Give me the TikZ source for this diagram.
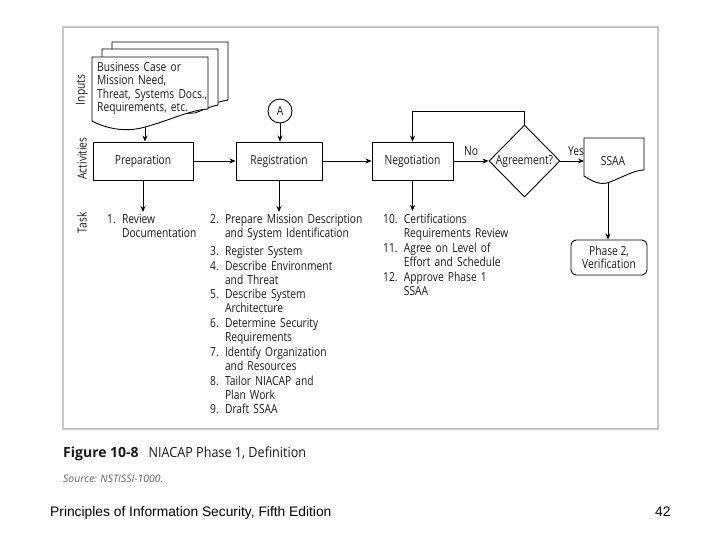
\documentclass[tikz,border=0pt]{standalone}
\usepackage{fontspec}
\setmainfont{Open Sans}
\newfontfamily\cond{Open Sans}[FakeStretch=0.82]
\newfontfamily\capcond{Open Sans}[FakeStretch=0.9]
\newfontfamily\arial{Liberation Sans}
\usetikzlibrary{shapes.geometric,arrows.meta}
\definecolor{txt}{HTML}{1A1A1A}
\begin{document}
\begin{tikzpicture}[x=1pt,y=-1pt,
  every node/.style={text=txt},
  box/.style={draw,line width=0.9pt,rectangle,minimum height=38pt,inner sep=0pt,font=\cond\fontsize{12.5}{13.5}\selectfont},
  lbl/.style={font=\cond\fontsize{12.5}{13.5}\selectfont, inner sep=0pt},
  task/.style={font=\cond\fontsize{12.5}{13.5}\selectfont, inner sep=0pt, anchor=base west, text width=170pt, align=left},
  arr/.style={-{Stealth[length=6pt,width=5pt]}, line width=0.9pt},
  ln/.style={line width=0.9pt}]
\useasboundingbox (0,0) rectangle (720,540);
\fill[white] (0,0) rectangle (720,540);
\draw[gray!45, line width=1.3pt] (63,27) rectangle (658,429);

% row labels
\node[lbl, rotate=90] (rowin) at (82,90) {Inputs};
\node[lbl, rotate=90] (rowact) at (82,158.5) {Activities};
\node[lbl, rotate=90] (rowtask) at (82,223) {Task};

% input document stack
\draw[ln, fill=white] (112,42) -- (228,42) -- (228,100) .. controls (222,101) and (215,103) .. (205,107) -- (112,107) -- cycle;
\draw[ln, fill=white] (102,49) -- (218,49) -- (218,105) .. controls (212,106) and (205,109) .. (195,113) -- (102,115) -- cycle;
\draw[ln, fill=white] (92,57) -- (208,57) -- (208,109) .. controls (190,110) and (168,121) .. (145,127) .. controls (125,133) and (105,128) .. (92,121) -- cycle;
\node[task, text width=115pt] (inputs) at (97,71.5) {Business Case or\\Mission Need,\\Threat, Systems Docs.,\\Requirements, etc.};
\coordinate (inbot) at (145,127);

% activities
\node[box, minimum width=100pt] (prep) at (143,161) {Preparation};
\node[box, minimum width=86pt] (reg) at (279,161) {Registration};
\node[box, minimum width=81pt] (neg) at (412.5,161) {Negotiation};
\node[draw, circle, ln, minimum size=24pt, inner sep=0pt, lbl] (A) at (280,111) {A};
\node[draw, diamond, ln, aspect=1, minimum width=71pt, minimum height=72pt, inner sep=0pt, lbl] (agr) at (524.5,161) {Agreement?};
\node[lbl] (no) at (471,151) {No};
\node[lbl] (yes) at (576,151) {Yes};

% SSAA document
\draw[ln, fill=white] (584,138) -- (644,138) -- (644,170) .. controls (635,170) and (625,176) .. (610,182) .. controls (600,186) and (592,181) .. (584,176) -- cycle;
\node[lbl] (ssaa) at (613,161) {SSAA};
\coordinate (ssaal) at (584,161);
\coordinate (ssaabot) at (608,183);
\node[draw, ln, rounded corners=5pt, minimum width=76pt, minimum height=35pt, inner sep=0pt, align=center, lbl] (ph2) at (609,257.5) {Phase 2,\\Verification};

% connectors
\draw[arr] (inbot) -- (inbot |- prep.north);
\draw[arr] (prep) -- (reg);
\draw[arr] (reg) -- (neg);
\draw[arr] (neg) -- (agr);
\draw[arr] (agr) -- (ssaal);
\draw[arr] (agr.north) -- ++(0,-13) -| (neg.north);
\draw[arr] (A) -- (A |- reg.north);
\draw[arr] (ssaabot) -- (ssaabot |- ph2.north);
\coordinate (t1) at (143,212);
\coordinate (t2) at (279,212);
\coordinate (t3) at (412.5,211);
\draw[arr] (prep.south) -- (t1);
\draw[arr] (reg.south) -- (t2);
\draw[arr] (neg.south) -- (t3);

% tasks
\node[task] (k1) at (107,223.5) {1. Review\\\phantom{1. }Documentation};
\node[task] (k2) at (210,223.5) {2. Prepare Mission Description\\\phantom{2. }and System Identification};
\node[task] (k3) at (210,255.5) {3. Register System};
\node[task] (k4) at (210,270.5) {4. Describe Environment\\\phantom{4. }and Threat};
\node[task] (k5) at (210,298.5) {5. Describe System\\\phantom{5. }Architecture};
\node[task] (k6) at (210,327.5) {6. Determine Security\\\phantom{6. }Requirements};
\node[task] (k7) at (210,356.5) {7. Identify Organization\\\phantom{7. }and Resources};
\node[task] (k8) at (210,385.5) {8. Tailor NIACAP and\\\phantom{8. }Plan Work};
\node[task] (k9) at (210,413.5) {9. Draft SSAA};
\node[task] (k10) at (383,223.5) {10. Certifications\\\phantom{10. }Requirements Review};
\node[task] (k11) at (383,252.5) {11. Agree on Level of\\\phantom{11. }Effort and Schedule};
\node[task] (k12) at (383,281.5) {12. Approve Phase 1\\\phantom{12. }SSAA};

% caption and footer
\node[anchor=base west, inner sep=0pt, font=\fontsize{14}{16}\selectfont] (cap) at (63,457) {\textbf{Figure 10-8}\hspace{10pt}{\capcond NIACAP Phase 1, Definition}};
\node[anchor=base west, inner sep=0pt, font=\itshape\fontsize{10.4}{12}\selectfont, text=gray!75!black] (src) at (63,482) {Source: NSTISSI-1000.};
\node[anchor=base west, inner sep=0pt, font=\arial\fontsize{13.8}{16}\selectfont, text=black] (foot) at (50,516) {Principles of Information Security, Fifth Edition};
\node[anchor=base west, inner sep=0pt, font=\arial\fontsize{13.8}{16}\selectfont, text=black] (pg) at (655,516) {42};
\end{tikzpicture}
\end{document}
